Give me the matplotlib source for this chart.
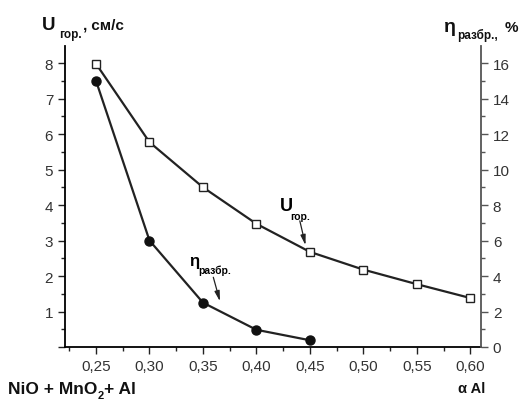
import matplotlib
matplotlib.use("Agg")
import matplotlib.pyplot as plt
from matplotlib.ticker import MultipleLocator, FuncFormatter

plt.rcParams['font.family'] = ['Liberation Sans', 'DejaVu Sans']

alpha_u = [0.25, 0.30, 0.35, 0.40, 0.45, 0.50, 0.55, 0.60]
u_gor = [7.98, 5.77, 4.5, 3.47, 2.68, 2.18, 1.77, 1.38]
alpha_eta = [0.25, 0.30, 0.35, 0.40, 0.45]
eta_razbr = [15.0, 6.0, 2.5, 0.97, 0.38]

W, H = 528, 402
fig = plt.figure(figsize=(W/100, H/100), dpi=100)
ax = fig.add_axes([65/W, 1-348/H, (481-65)/W, (348-47)/H])
ax2 = ax.twinx()

ax.plot(alpha_u, u_gor, color='#222222', lw=1.6, marker='s', ms=5.5,
        mfc='white', mec='#222222', mew=1.0, zorder=3)
ax2.plot(alpha_eta, eta_razbr, color='#222222', lw=1.6, marker='o', ms=6.5,
         mfc='#111111', mec='#111111', zorder=3)

ax.set_xlim(0.221, 0.610)
ax.set_ylim(0, 8.48)
ax2.set_ylim(0, 16.96)

ax.xaxis.set_major_locator(MultipleLocator(0.05))
ax.xaxis.set_minor_locator(MultipleLocator(0.025))
ax.yaxis.set_major_locator(MultipleLocator(1))
ax.yaxis.set_minor_locator(MultipleLocator(0.5))
ax2.yaxis.set_major_locator(MultipleLocator(2))
ax2.yaxis.set_minor_locator(MultipleLocator(1))

ax.xaxis.set_major_formatter(FuncFormatter(lambda v, p: f"{v:.2f}".replace('.', ',')))
ax.yaxis.set_major_formatter(FuncFormatter(lambda v, p: "" if abs(v) < 1e-9 else f"{v:.0f}"))
ax2.yaxis.set_major_formatter(FuncFormatter(lambda v, p: f"{v:.0f}"))

for a in (ax, ax2):
    a.spines['top'].set_visible(False)
ax2.spines['left'].set_visible(False)
ax2.spines['bottom'].set_visible(False)
ax.spines['right'].set_visible(False)
ax2.spines['right'].set_color('#555555')
ax2.spines['right'].set_linewidth(1.3)
ax.spines['left'].set_linewidth(1.3)
ax.spines['bottom'].set_linewidth(1.3)

ax.tick_params(axis='both', which='major', direction='out', length=5, width=1,
               labelsize=11, colors='#222222', labelcolor='#333333')
ax.tick_params(axis='both', which='minor', direction='out', length=3, width=1, colors='#222222')
ax2.tick_params(axis='y', which='major', direction='out', length=5, width=1,
                labelsize=11, colors='#555555', labelcolor='#333333')
ax2.tick_params(axis='y', which='minor', direction='out', length=3, width=1, colors='#555555')

# Annotations
ax.annotate('', xy=(0.4465, 2.79), xytext=(0.440, 3.63),
            arrowprops=dict(arrowstyle='-|>,head_length=0.6,head_width=0.15',
                            color='#222222', lw=0.9))
ax.text(0.422, 3.86, 'U', fontsize=13, fontweight='bold', ha='left', va='baseline')
ax.text(0.432, 3.60, 'гор.', fontsize=7.5, fontweight='bold', ha='left', va='baseline')

ax.annotate('', xy=(0.3666, 1.21), xytext=(0.359, 2.04),
            arrowprops=dict(arrowstyle='-|>,head_length=0.6,head_width=0.15',
                            color='#222222', lw=0.9))
ax.text(0.337, 2.31, 'η', fontsize=12, fontweight='bold', ha='left', va='baseline')
ax.text(0.346, 2.08, 'разбр.', fontsize=7.5, fontweight='bold', ha='left', va='baseline')

renderer = fig.canvas.get_renderer()

def chain(x, y, pieces):
    # pieces: (string, fontsize, dy_pixels, gap_pixels_before)
    cx = x
    for s, fs, dy, gap in pieces:
        cx += gap
        t = fig.text(cx/W, 1-(y+dy)/H, s, ha='left', va='baseline', fontweight='bold',
                     color='#111111', fontsize=fs)
        bb = t.get_window_extent(renderer)
        cx = bb.x1

chain(42, 30, [('U', 13.5, 0, 0), ('гор.', 8.5, 8, 4), (',', 11, 0, 0.5), (' см/с', 11, 0, 0)])
chain(444, 32, [('η', 14, 0, 0), ('разбр.,', 8.5, 7, 1), ('%', 11, 0, 7)])
chain(8, 394, [('NiO + MnO', 12.5, 0, 0), ('2', 8, 5, 0), ('+ Al', 12.5, 0, 0)])
chain(458, 393, [('α Al', 10.5, 0, 0)])

fig.savefig('out.png', dpi=100)
